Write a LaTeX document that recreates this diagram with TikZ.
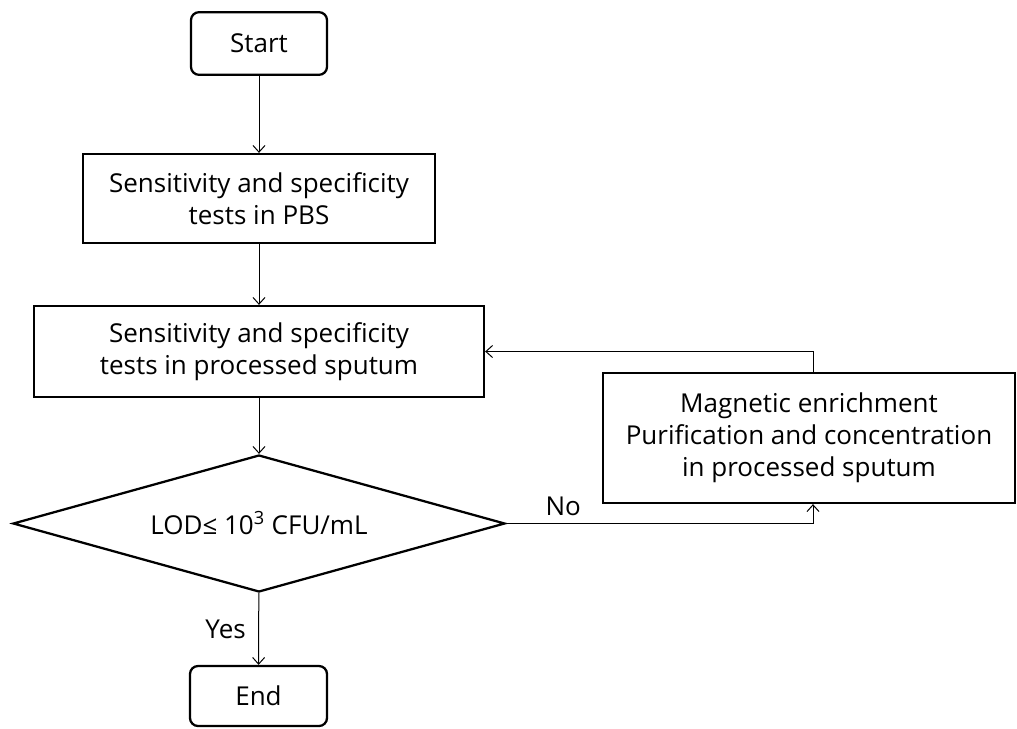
\documentclass[tikz,border=0pt]{standalone}
\usepackage{fontspec}
\setmainfont{Open Sans}
\usetikzlibrary{shapes.geometric,arrows.meta}

\tikzset{
  box/.style={draw, line width=1.7pt, align=center, inner sep=0pt},
  term/.style={box, rounded corners=6pt},
  link/.style={line width=0.75pt, -{Straight Barb[length=5pt,width=9pt]}},
}

\begin{document}
\begin{tikzpicture}[x=0.75pt, y=-0.75pt, font=\fontsize{19.5}{24}\selectfont]
    \useasboundingbox (0,0) rectangle (1017,728);

    \node[term, minimum width=102pt, minimum height=47pt] (start) at (259,43.5) {Start};
    \node[box, minimum width=264pt, minimum height=66.75pt] (pbs) at (259,198.5) {Sensitivity and specificity\\tests in PBS};
    \node[box, minimum width=337.5pt, minimum height=68.25pt] (sputum) at (259,351.5) {Sensitivity and specificity\\tests in processed sputum};
    \node[box, diamond, aspect=3.6, minimum width=369pt, minimum height=102.75pt] (lod) at (259,523.5) {LOD≤ 10\textsuperscript{3} CFU/mL};
    \node[term, minimum width=102.75pt, minimum height=45pt] (end) at (258.5,696) {End};

    \node[box, minimum width=309pt, minimum height=97.5pt] (enrich) at (809,438) {Magnetic enrichment\\Purification and concentration\\in processed sputum};
    \coordinate (bend) at (813,0);

    \draw[link] (start) -- (pbs);
    \draw[link] (pbs) -- (sputum);
    \draw[link] (sputum) -- (lod);
    \draw[link] (lod) -- node[midway, left=6pt] {Yes} (end);

    \draw[link] (lod.east) -| node[pos=0.093, above=2pt] {No} (enrich.south -| bend);
    \draw[link] (enrich.north -| bend) |- (sputum.east);
\end{tikzpicture}
\end{document}
